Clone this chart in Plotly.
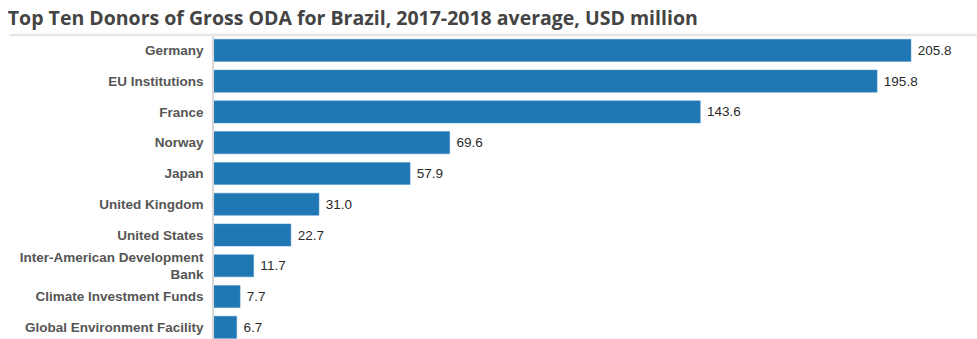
import plotly.graph_objects as go

donors = ["Germany", "EU Institutions", "France", "Norway", "Japan", "United Kingdom",
          "United States", "Inter-American Development<br>Bank", "Climate Investment Funds",
          "Global Environment Facility"]
values = [205.8, 195.8, 143.6, 69.6, 57.9, 31.0, 22.7, 11.7, 7.7, 6.7]
labels = [f"{v:.1f}" for v in values]

fig = go.Figure(go.Bar(
    x=values, y=donors, orientation="h",
    marker=dict(color="#1f77b4", line=dict(color="#4a90c6", width=0.5)),
    text=labels, texttemplate="\u00a0%{text}", textposition="outside", cliponaxis=False,
    textfont=dict(family="Liberation Sans, Arial, sans-serif", size=13.5, color="#2a2a2a"),
))

fig.update_layout(
    width=977, height=339,
    margin=dict(l=214, r=0, t=35, b=0),
    paper_bgcolor="white", plot_bgcolor="white",
    bargap=0.28,
    showlegend=False,
    title=dict(text="Top Ten Donors of Gross ODA for Brazil, 2017-2018 average, USD million",
               x=0.008, xanchor="left", y=0.945, yanchor="middle",
               font=dict(family="Open Sans, sans-serif", size=19.5, weight=700,
                         color="#444444")),
    xaxis=dict(range=[0, 225.3], visible=False, fixedrange=True),
    yaxis=dict(range=[9.38, -0.5], showline=True, linecolor="#d9d9d9", linewidth=1.5,
               ticks="", ticklabelstandoff=6,
               tickfont=dict(family="Liberation Sans, Arial, sans-serif", size=13.5,
                             color="#555555", weight="bold"),
               showgrid=False),
    shapes=[dict(type="line", xref="paper", yref="paper", x0=-0.214 * 977 / 763 + 0.006, x1=1,
                 y0=1, y1=1, line=dict(color="#e6e6e6", width=2.5))],
)

fig.write_html("out.html")
